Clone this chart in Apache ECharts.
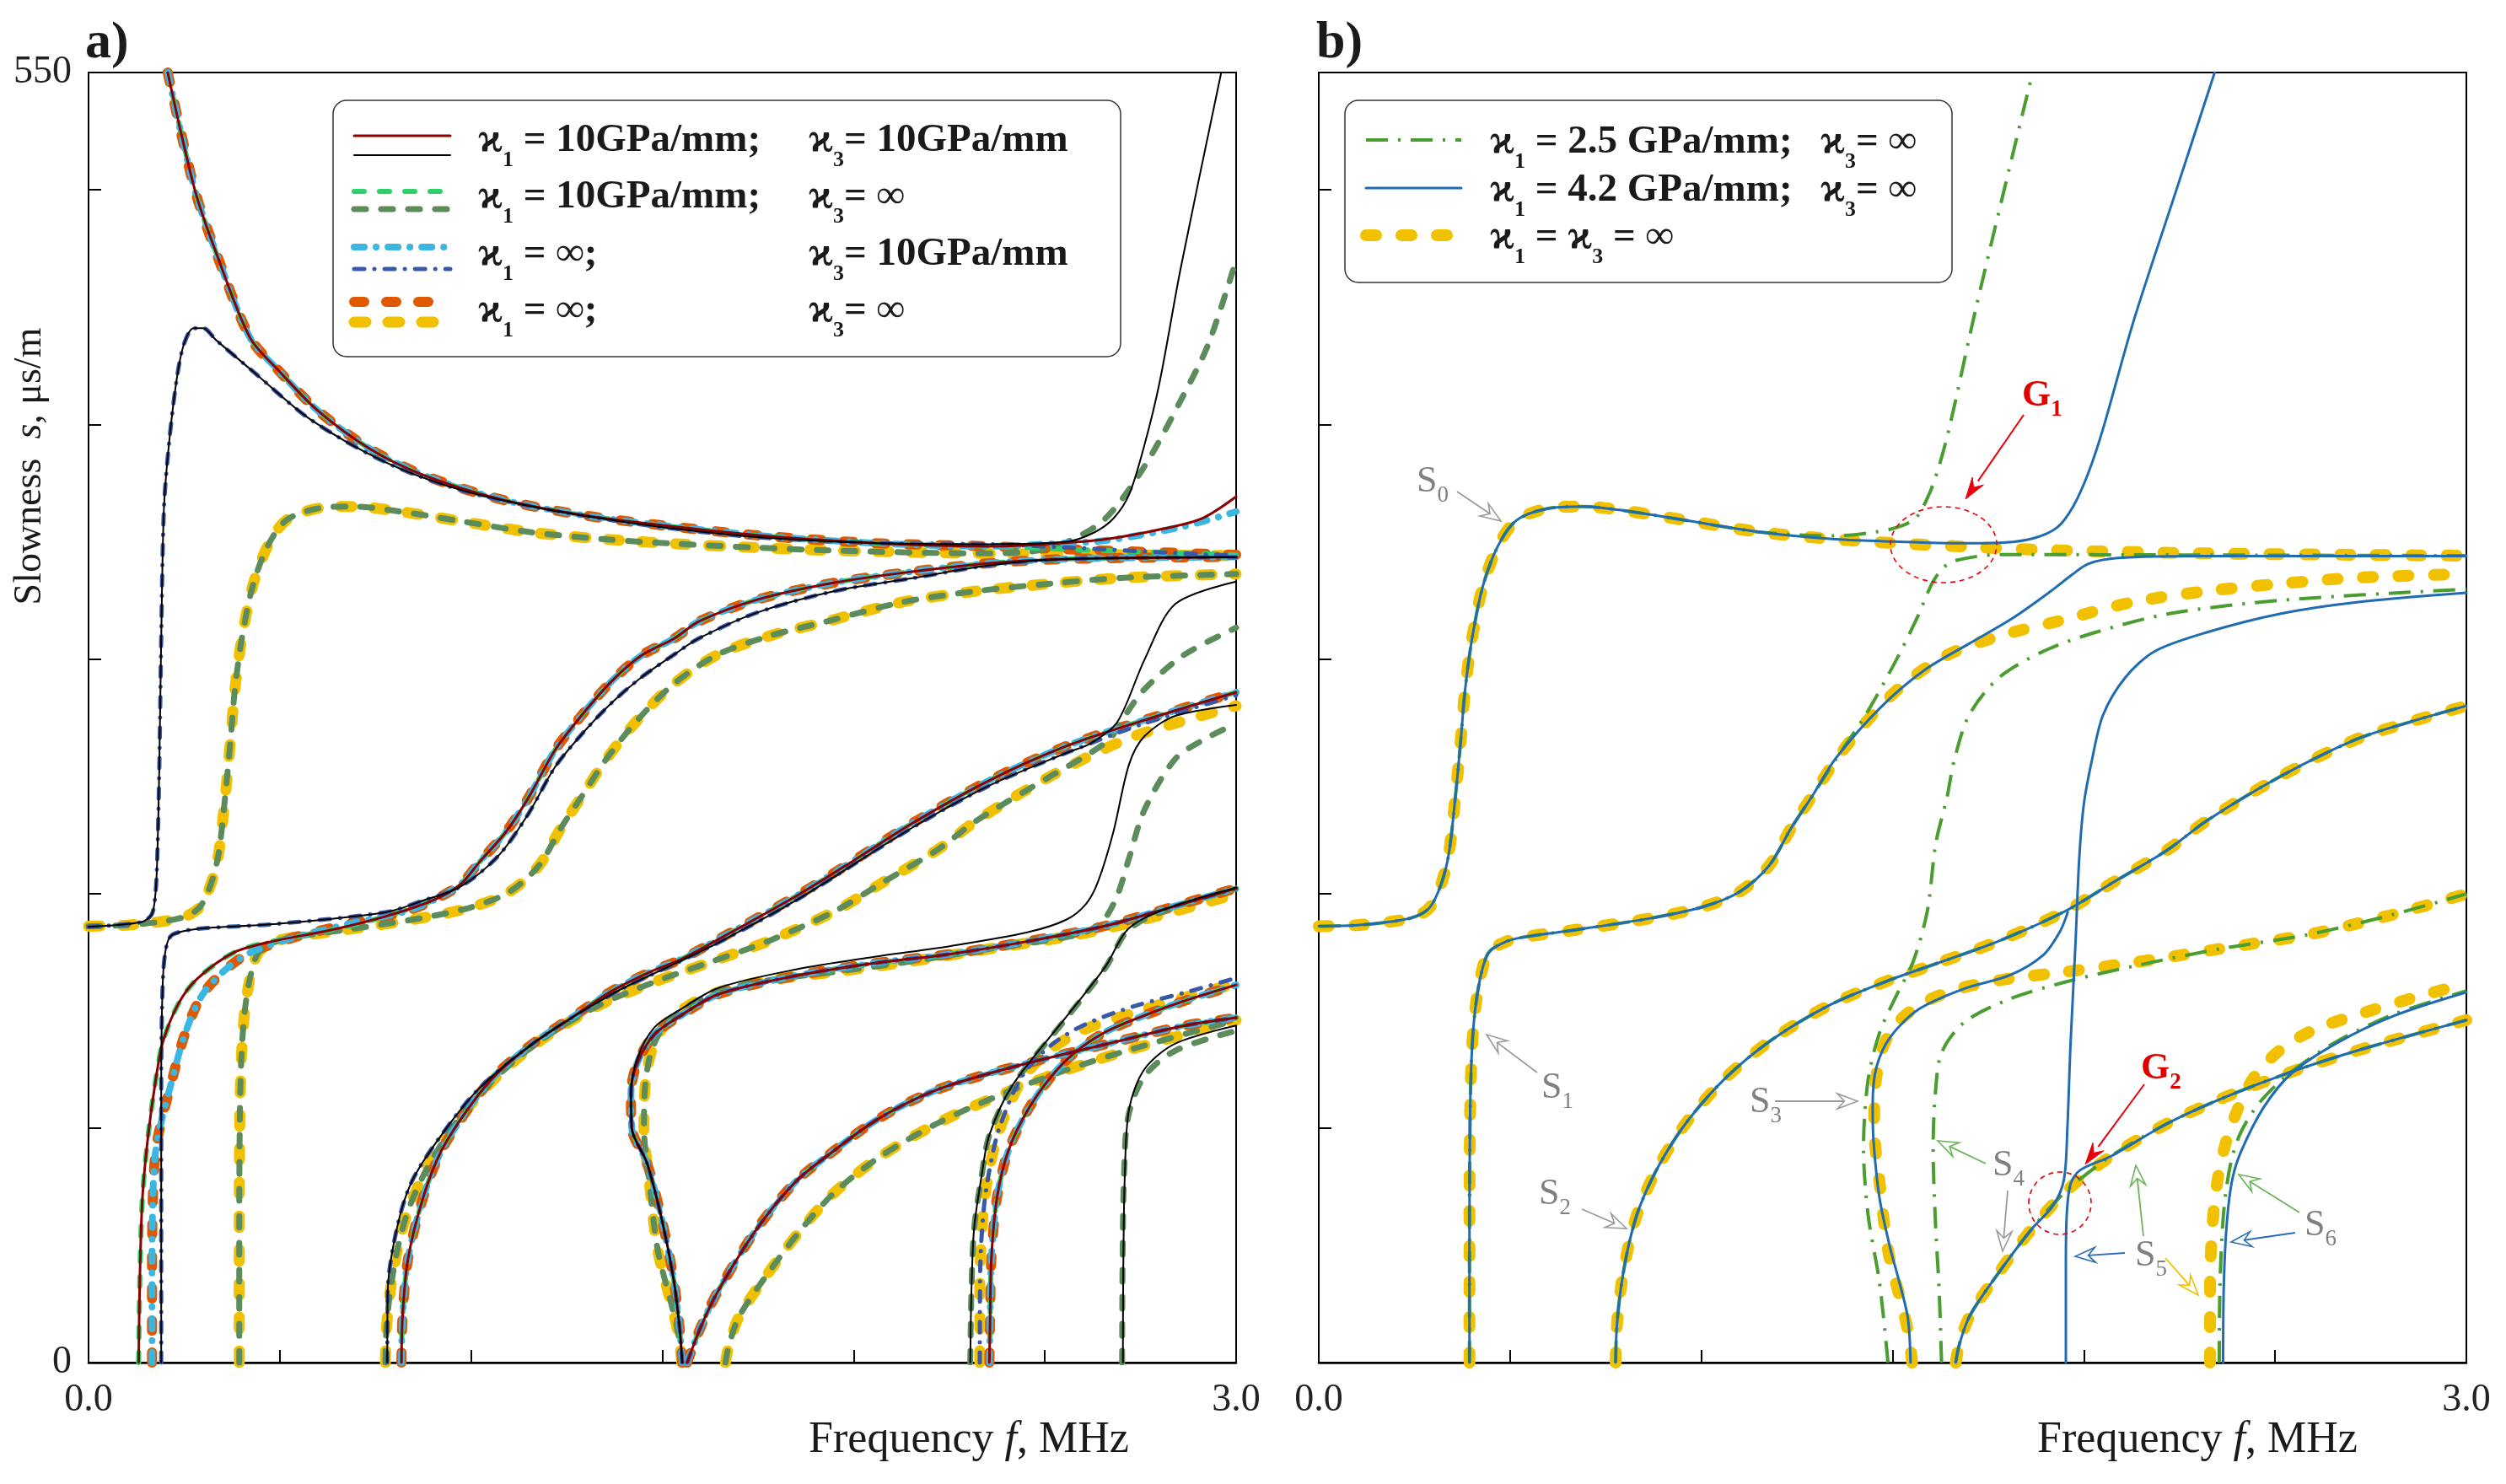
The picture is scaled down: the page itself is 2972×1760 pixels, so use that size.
<!DOCTYPE html>
<html><head><meta charset="utf-8">
<script src="https://cdn.jsdelivr.net/npm/echarts@6/dist/echarts.min.js"></script>
<style>html,body{margin:0;padding:0;background:#fff}#c{width:2972px;height:1760px}</style>
</head><body><div id="c"></div>
<script>
const FONT = "'Liberation Serif','DejaVu Serif','Times New Roman',serif";

// ---------- axis labels ----------
const xLabelValues = [0, 3];
const yLabelValues = [0, 550];

// ---------- symmetric modes, kappa1 = kappa3 = inf (yellow, both panels) ----------
const S0_HEAD = [[0,186],[0.10,186.5],[0.19,188],[0.25,190],[0.29,194],[0.32,204],[0.34,217],[0.357,241],[0.371,265],[0.382,286],[0.40,308],[0.429,331],[0.468,348],[0.516,359],[0.594,364],[0.691,365],[0.808,363],[0.962,359],[1.157,354]];
const S0_MID = [[1.351,351],[1.545,349],[1.739,347.5],[1.933,346.3],[2.32,345]];
const S0_END = [[2.7,344.4],[3.0,344]];
const S1_HEAD = [[0.394,0],[0.394,60],[0.396,110],[0.401,135],[0.41,152],[0.425,166],[0.445,175],[0.49,179.5],[0.536,181.4],[0.672,184.5],[0.866,189.4],[1.002,194.2],[1.099,200.6],[1.177,211.8],[1.235,227.9],[1.293,242.3]];
const S1_END = [[1.351,256.7],[1.429,272.8],[1.526,288.8],[1.642,301.6],[1.778,309.7],[1.933,316.1],[2.127,324.2],[2.321,328.9],[2.515,332.1],[2.709,334.6],[3.0,336.2]];
const Y2 = [[0.776,0],[0.779,15],[0.79,32],[0.81,50],[0.838,66],[0.89,84.3],[0.964,103],[1.067,121.9],[1.185,137.7],[1.333,152.2],[1.48,162.3],[1.628,170.9],[1.776,179.6],[1.953,192.6],[2.071,204.2],[2.219,218.6],[2.321,231],[2.515,250],[2.709,265.5],[2.85,273],[3.0,280]];
const Y3 = [[1.551,0],[1.542,12],[1.525,24],[1.488,48],[1.466,77],[1.452,100],[1.455,118],[1.47,132],[1.498,142],[1.54,149],[1.60,155],[1.687,160],[1.806,163.7],[1.953,166.6],[2.144,170.9],[2.367,176.7],[2.588,182.5],[2.81,191.1],[3.0,199.8]];
const Y4 = [[1.665,0],[1.675,8],[1.702,20],[1.776,38],[1.864,57],[1.953,73],[2.071,88],[2.219,102],[2.367,113],[2.543,124],[2.735,134],[3.0,146]];
const Y5 = [[2.33,0],[2.33,34],[2.337,60],[2.352,80],[2.381,99],[2.44,120.5],[2.514,133.4],[2.603,142],[2.735,149.3],[2.883,156.5],[3.0,161.6]];

// ---------- panel b: kappa1 = 4.2 GPa/mm (blue) ----------
const B0_END = [[1.351,351],[1.506,350],[1.681,349.3],[1.79,349.6],[1.87,351.5],[1.93,356],[1.972,365],[2.011,379],[2.05,398],[2.13,444],[2.24,499],[2.342,550]];
const B1_END = [[1.351,257.5],[1.468,279.2],[1.584,295.3],[1.70,306.5],[1.817,317.7],[1.914,328.9],[1.97,336],[2.011,340.5],[2.089,343],[2.32,343.8],[3.0,343.8]];
const B3 = [[1.547,0],[1.54,19],[1.515,36],[1.495,48],[1.466,70],[1.45,95],[1.448,110],[1.458,126],[1.495,139],[1.569,150.7],[1.687,159.4],[1.806,165.1],[1.894,173.8],[1.938,183.9],[1.958,192]];
const B4 = [[1.665,0],[1.675,8],[1.702,20],[1.776,38],[1.864,57],[1.92,67],[1.948,78],[1.957,100],[1.965,135],[1.978,178],[1.988,215],[2.0,238],[2.021,256.7],[2.05,276],[2.108,292],[2.186,303.3],[2.321,311.3],[2.515,319.3],[2.709,324.1],[3.0,328.2]];
const B5 = [[1.953,0],[1.953,40],[1.955,62],[1.965,76],[1.99,82],[2.071,88],[2.219,102],[2.367,113],[2.543,124],[2.735,134],[3.0,146]];
const B6 = [[2.364,0],[2.366,34],[2.374,60],[2.388,78],[2.411,90],[2.47,108.8],[2.543,123.3],[2.662,136.3],[2.81,147.8],[3.0,157.9]];

// ---------- panel b: kappa1 = 2.5 GPa/mm (green dash-dot) ----------
const G0_END = [[1.351,352.5],[1.45,354],[1.51,356],[1.56,360],[1.595,370],[1.623,383],[1.652,401],[1.72,451],[1.866,550]];
const G1_END = [[1.351,257],[1.429,276],[1.506,298.4],[1.565,317.8],[1.603,332.1],[1.63,338.5],[1.661,341.8],[1.778,344.5],[2.3,344.3],[3.0,344]];
const G3 = [[1.488,0],[1.466,34],[1.436,63],[1.424,91.5],[1.436,120.5],[1.466,140.6],[1.51,156.5],[1.554,171],[1.591,192.6],[1.613,221.4],[1.642,240.7],[1.661,256.7],[1.70,276],[1.778,292],[1.895,303.3],[2.03,311.3],[2.224,319.3],[2.515,325],[3.0,329.7]];
const G4 = [[1.628,0],[1.622,30],[1.612,60],[1.606,91.5],[1.612,115],[1.628,132],[1.687,145],[1.806,155],[1.953,162.3],[2.144,169.5],[2.367,176.7],[2.588,182.5],[2.81,191.1],[3.0,199.8]];
const G6 = [[2.354,0],[2.356,34],[2.366,65],[2.384,85],[2.41,98],[2.46,111],[2.543,124],[2.662,137],[2.81,148.5],[3.0,158.5]];

// ---------- panel a: antisymmetric modes (orange / red / light green / light blue) ----------
const A0_HEAD = [[0.207,550],[0.245,522],[0.283,497],[0.334,473],[0.422,437],[0.50,422.4],[0.599,405.9],[0.737,389.4],[0.875,378.4],[1.071,368.3],[1.268,361.9],[1.444,358],[1.747,352.7],[2.051,349.4],[2.355,348]];
const O0_END = [[2.6,346.5],[3.0,344.4]];
const R0_END = [[2.507,349],[2.659,351],[2.81,355.5],[2.912,360],[3.0,369.2]];
const LB0_END = [[2.507,349],[2.659,350.5],[2.861,356.4],[3.0,362.8]];
const A1_TAIL = [[0.973,204],[1.022,213.4],[1.091,226.2],[1.15,240.8],[1.219,261],[1.288,275.7],[1.367,290.4],[1.445,301.4],[1.532,308.8],[1.596,316],[1.747,325.2],[1.95,332.5],[2.153,337.2],[2.355,340.8],[2.557,342.6],[3.0,343.5]];
const O1_HEAD = [[0.166,0],[0.166,40],[0.168,70],[0.174,88],[0.185,99],[0.215,118.4],[0.254,141],[0.304,158.3],[0.402,172.9],[0.53,180.9],[0.678,186.9],[0.825,192.2],[0.9,197]];
const R1_HEAD = [[0.131,0],[0.134,35],[0.141,70.5],[0.156,97.1],[0.176,121],[0.195,137],[0.235,153],[0.284,163.6],[0.382,175],[0.481,179.6],[0.628,184.2],[0.776,190.2],[0.9,197]];
const O2 = [[0.818,0],[0.821,20],[0.835,44],[0.875,70.5],[0.923,90.5],[1.002,110.4],[1.071,123.7],[1.17,137],[1.268,147.6],[1.367,158.3],[1.465,166.3],[1.55,172],[1.646,180.4],[1.849,198.8],[2.0,214],[2.153,229.9],[2.355,248.2],[2.557,262.9],[2.76,273.9],[3.0,285.8]];
const O3 = [[1.552,0],[1.545,15],[1.53,35],[1.50,60],[1.46,85],[1.42,100],[1.418,115],[1.435,128],[1.48,140],[1.545,147.6],[1.646,157],[1.849,164.9],[2.051,170.2],[2.254,174.2],[2.456,179.6],[2.659,186.2],[2.861,195.6],[3.0,202.2]];
const O4 = [[1.565,0],[1.60,15],[1.646,30.6],[1.748,57.2],[1.849,77.2],[1.95,90.5],[2.051,102.5],[2.153,111.7],[2.254,118.4],[2.456,127.7],[2.659,135.7],[2.861,143.5],[3.0,147]];
const O5 = [[2.355,0],[2.357,20],[2.36,44],[2.375,70.5],[2.405,90.5],[2.456,107.8],[2.517,122],[2.577,132],[2.659,141],[2.76,148],[2.861,154],[3.0,161]];

// ---------- panel a: symmetric modes with finite stiffness (black / dark blue / dark green) ----------
const K0_HEAD = [[0,185.8],[0.136,187.7],[0.165,191],[0.175,200],[0.18,217],[0.185,253.8],[0.19,308.8],[0.197,363.7],[0.21,391.2],[0.23,418.7],[0.249,434],[0.275,441],[0.3,441],[0.333,436],[0.431,422.4],[0.579,402.2],[0.776,383.9],[0.973,372],[1.17,364.6],[1.367,359.2],[1.532,355.5],[1.747,351.9],[2.051,349.4],[2.355,348.9]];
const K0_END = [[2.558,350],[2.63,354],[2.68,360],[2.72,370],[2.76,391],[2.8,418],[2.855,466.5],[2.961,550]];
const DB0_END = [[2.558,347.5],[2.8,345.5],[3.0,344]];
const K1 = [[0.19,0],[0.19,60],[0.19,120],[0.192,150],[0.196,168],[0.205,178.5],[0.22,182.5],[0.284,184.9],[0.481,186.9],[0.776,192],[0.875,197],[0.973,203],[1.071,216],[1.15,234],[1.219,253.8],[1.29,268],[1.367,281.2],[1.444,292],[1.532,302],[1.596,308.8],[1.747,319.7],[1.95,328.9],[2.153,334.4],[2.355,339.9],[2.557,342.6],[3.0,343.3]];
const K2_HEAD = [[0.781,0],[0.782,30],[0.806,57.2],[0.845,77.2],[0.923,97.1],[1.022,117],[1.17,137],[1.367,157],[1.532,170],[1.646,179],[1.849,197],[2.153,228],[2.355,246],[2.557,260]];
const K2_END = [[2.62,264],[2.689,273],[2.76,299.5],[2.841,323.4],[3.0,333]];
const DB2_END = [[2.76,272.5],[3.0,284.5]];
const K3 = [[1.552,0],[1.545,15],[1.53,35],[1.50,60],[1.46,85],[1.42,100],[1.418,115],[1.435,130],[1.48,143],[1.545,150.3],[1.646,159.7],[1.849,167.6],[2.051,172.9],[2.254,177.6],[2.456,183.5],[2.557,188.9],[2.608,195.6],[2.639,205],[2.679,226.2],[2.72,255],[2.76,267],[2.841,275.7],[3.0,280.4]];
const K4 = [[2.305,0],[2.308,30],[2.315,57.2],[2.335,80],[2.355,97.1],[2.416,118.4],[2.557,147.6],[2.659,169],[2.71,183.5],[2.76,189.5],[2.861,196],[3.0,202.5]];
const K5 = [[2.704,0],[2.705,40],[2.709,80],[2.72,108],[2.76,125],[2.841,136],[3.0,143.7]];
const DB5 = [[2.33,0],[2.331,40],[2.34,65],[2.355,82],[2.381,100],[2.44,122],[2.514,135],[2.603,144],[2.735,152],[2.883,158.5],[3.0,164]];
const DG0_END = [[2.45,345.5],[2.56,350],[2.659,360],[2.76,382],[2.861,412],[2.928,434.5],[3.0,470]];
const DG2_END = [[2.6,258],[2.67,266],[2.71,276],[2.76,287],[2.861,301.4],[3.0,313.3]];
const DG3_END = [[2.65,188],[2.689,199],[2.72,215],[2.76,235.5],[2.841,257.4],[2.92,266],[3.0,272.5]];
const DGD = [[2.305,0],[2.308,30],[2.315,57],[2.335,80],[2.355,97],[2.416,118],[2.557,147],[2.659,168.5],[2.71,183],[2.76,189],[2.861,195.5],[3.0,202]];
const DG5 = [[2.702,0],[2.703,40],[2.707,80],[2.718,105],[2.76,122],[2.841,133],[3.0,141.5]];

// ---------- assembled curves ----------
const Y0 = S0_HEAD.concat(S0_MID, S0_END);
const Y1 = S1_HEAD.concat(S1_END);
const B0 = S0_HEAD.concat(B0_END);
const B1 = S1_HEAD.concat(B1_END);
const G0 = S0_HEAD.concat(G0_END);
const G1 = S1_HEAD.concat(G1_END);
const O0 = A0_HEAD.concat(O0_END), R0 = A0_HEAD.concat(R0_END), LB0 = A0_HEAD.concat(LB0_END);
const O1 = O1_HEAD.concat(A1_TAIL), R1 = R1_HEAD.concat(A1_TAIL);
const K0 = K0_HEAD.concat(K0_END), DB0 = K0_HEAD.concat(DB0_END);
const K2 = K2_HEAD.concat(K2_END), DB2 = K2_HEAD.concat(DB2_END);
const DG0 = S0_HEAD.concat(S0_MID, DG0_END);
const DG2 = Y2.filter(p => p[0] <= 2.515).concat(DG2_END);
const DG3 = Y3.filter(p => p[0] <= 2.588).concat(DG3_END);

const ST = {
  yellow: {color:'#f1c100', width:13, type:[14,26], z:2},
  orange: {color:'#e05800', width:12, type:[12,26], z:3},
  dgreen: {color:'#5c8b5c', width:7, type:[14,18], z:4},
  lgreen: {color:'#2ed06a', width:6, type:[12,18], z:5},
  lblue:  {color:'#3bb6e0', width:8, type:[12,14,0.1,14], z:6},
  dblue:  {color:'#3a58a8', width:5, type:[12,12,0.1,12], z:7},
  red:    {color:'#8b0000', width:3, type:'solid', z:8},
  black:  {color:'#000000', width:2, type:'solid', z:9},
  byellow:{color:'#f1c100', width:14, type:[12,30], z:2},
  bgreen: {color:'#4a9e2f', width:4, type:[26,12,3,12], z:3, cap:'butt'},
  bblue:  {color:'#1f6cb2', width:3, type:'solid', z:4}
};

const panelA = [
  ['yellow',[Y0,Y1,Y2,Y3,Y4,Y5]],
  ['orange',[O0,O1,O2,O3,O4,O5]],
  ['dgreen',[DG0,Y1,DG2,DG3,Y4,DGD,DG5]],
  ['lgreen',[O0,R1,O2,O3,O4,O5]],
  ['lblue',[LB0,O1,O2,O3,O4,O5]],
  ['dblue',[DB0,K1,DB2,O3,O4,DB5]],
  ['red',[R0,R1,O2,O3,O4,O5]],
  ['black',[K0,K1,K2,K3,K4,K5]]
];
const panelB = [
  ['byellow',[Y0,Y1,Y2,Y3,Y4,Y5]],
  ['bgreen',[G0,G1,Y2,G3,G4,Y4,G6]],
  ['bblue',[B0,B1,Y2,B3,B4,B5,B6]]
];

const series = [];
function addPanel(list, gi) {
  list.forEach(([key, curves]) => {
    const s = ST[key];
    curves.forEach(d => series.push({
      type:'line', xAxisIndex:gi, yAxisIndex:gi, data:d, symbol:'none', showSymbol:false,
      smooth:0.3, silent:true, animation:false, z:s.z, clip:true,
      lineStyle:{color:s.color, width:s.width, type:s.type, cap:s.cap||'round', join:'round'}
    }));
  });
}
addPanel(panelA, 0);
addPanel(panelB, 1);

const GRID_A = {left:105, top:86, width:1361, height:1530};
const GRID_B = {left:1564, top:86, width:1361, height:1530};

function xAx(gi) {
  return {gridIndex:gi, type:'value', min:0, max:3, interval:0.5,
    axisLine:{show:true, onZero:false, lineStyle:{color:'#000', width:2.5}},
    axisTick:{show:true, inside:true, length:15, lineStyle:{color:'#000', width:2}},
    axisLabel:{show:true, showMinLabel:true, showMaxLabel:true, margin:22, fontSize:46, fontFamily:FONT, color:'#222',
      formatter: v => xLabelValues.includes(v) ? v.toFixed(1) : ''},
    splitLine:{show:false}};
}
function yAx(gi, showLabels) {
  return {gridIndex:gi, type:'value', min:0, max:550, interval:100,
    axisLine:{show:true, onZero:false, lineStyle:{color:'#000', width:2}},
    axisTick:{show:true, inside:true, length:15, lineStyle:{color:'#000', width:2}},
    axisLabel:{show:showLabels, showMinLabel:true, showMaxLabel:true, margin:20, fontSize:46, fontFamily:FONT, color:'#222',
      formatter: v => yLabelValues.includes(v) ? String(v) : ''},
    splitLine:{show:false}};
}

// ---------- graphics: legends, titles, annotations ----------
const G = [];
const TOK = (size, extra) => Object.assign({fontSize:size, fontFamily:FONT, fill:'#1a1a1a', color:'#1a1a1a', lineHeight:72}, extra || {});
const legRich = {
  k: TOK(50, {fontWeight:'bold'}),
  t: TOK(47, {fontWeight:'bold'}),
  s: TOK(26, {fontWeight:'bold', lineHeight:26, verticalAlign:'bottom'})
};
function txt(x, y, text, rich, extra) {
  G.push(Object.assign({type:'text', x:x, y:y, z:120, silent:true,
    style:{text:text, rich:rich, align:'left', textAlign:'left', verticalAlign:'middle', textVerticalAlign:'middle'}}, extra || {}));
}
function legLine(x1, x2, y, key) {
  const s = ST[key];
  G.push({type:'line', z:115, silent:true, shape:{x1:x1, y1:y, x2:x2, y2:y},
    style:{stroke:s.color, lineWidth:s.width, lineDash:Array.isArray(s.type) ? s.type : null, lineCap:s.cap || 'round'}});
}
// legend box a
G.push({type:'rect', z:110, silent:true, shape:{x:395, y:119, width:934, height:304, r:16}, style:{fill:'#fff', stroke:'#333', lineWidth:1.5}});
const legA = [
  ['red','black',161,184,'{k|ϰ}{s|1}{t| = 10GPa/mm;}','{k|ϰ}{s|3}{t|= 10GPa/mm}',167],
  ['lgreen','dgreen',227,248,'{k|ϰ}{s|1}{t| = 10GPa/mm;}','{k|ϰ}{s|3}{t|= ∞}',234],
  ['lblue','dblue',293,319,'{k|ϰ}{s|1}{t| = ∞;}','{k|ϰ}{s|3}{t|= 10GPa/mm}',302],
  ['orange','yellow',358,382,'{k|ϰ}{s|1}{t| = ∞;}','{k|ϰ}{s|3}{t|= ∞}',369]
];
legA.forEach(r => {
  legLine(420, 534, r[2], r[0]);
  legLine(420, 534, r[3], r[1]);
  txt(567, r[6], r[4], legRich);
  txt(959, r[6], r[5], legRich);
});
// legend box b
G.push({type:'rect', z:110, silent:true, shape:{x:1595, y:119, width:720, height:216, r:16}, style:{fill:'#fff', stroke:'#333', lineWidth:1.5}});
const legB = [
  ['bgreen',166,'{k|ϰ}{s|1}{t| = 2.5 GPa/mm;}','{k|ϰ}{s|3}{t|= ∞}',169],
  ['bblue',223,'{k|ϰ}{s|1}{t| = 4.2 GPa/mm;}','{k|ϰ}{s|3}{t|= ∞}',226],
  ['byellow',279,'{k|ϰ}{s|1}{t| = }{k|ϰ}{s|3}{t| = ∞}',null,282]
];
legB.forEach(r => {
  legLine(1620, 1733, r[1], r[0]);
  txt(1767, r[4], r[2], legRich);
  if (r[3]) txt(2159, r[4], r[3], legRich);
});

// panel letters
txt(101, 52, '{b|a)}', {b: TOK(62, {fontWeight:'bold', lineHeight:70})});
txt(1561, 52, '{b|b)}', {b: TOK(62, {fontWeight:'bold', lineHeight:70})});

// axis titles
const titleRich = {n: TOK(52, {lineHeight:60}), i: TOK(52, {fontStyle:'italic', lineHeight:60})};
G.push({type:'text', x:1149, y:1708, z:120, silent:true, style:{text:'{n|Frequency }{i|f}{n|, MHz}', rich:titleRich, align:'center', textAlign:'center', verticalAlign:'middle', textVerticalAlign:'middle'}});
G.push({type:'text', x:2606, y:1708, z:120, silent:true, style:{text:'{n|Frequency }{i|f}{n|, MHz}', rich:titleRich, align:'center', textAlign:'center', verticalAlign:'middle', textVerticalAlign:'middle'}});
const yRich = {n: TOK(46, {lineHeight:54}), i: TOK(46, {fontStyle:'italic', lineHeight:54})};
G.push({type:'text', x:36, y:553, rotation:Math.PI/2, z:120, silent:true, style:{text:'{n|Slowness  }{i|s}{n|, μs/m}', rich:yRich, align:'center', textAlign:'center', verticalAlign:'middle', textVerticalAlign:'middle'}});

// annotations (panel b)
const grayRich = {m: TOK(44, {fill:'#808080', color:'#808080', lineHeight:60}), s: TOK(27, {fill:'#808080', color:'#808080', lineHeight:27, verticalAlign:'bottom'})};
const redRich = {m: TOK(44, {fill:'#e00000', color:'#e00000', fontWeight:'bold', lineHeight:60}), s: TOK(27, {fill:'#e00000', color:'#e00000', fontWeight:'bold', lineHeight:27, verticalAlign:'bottom'})};
function arrow(x1, y1, x2, y2, color, w, filled) {
  const a = Math.atan2(y2 - y1, x2 - x1), ca = Math.cos(a), sa = Math.sin(a);
  const hl = filled ? 26 : 24, hw = filled ? 8 : 9;
  const bx = x2 - hl * ca, by = y2 - hl * sa;
  const nx = x2 - hl * 0.65 * ca, ny = y2 - hl * 0.65 * sa;
  G.push({type:'line', z:118, silent:true, shape:{x1:x1, y1:y1, x2:filled ? bx : nx, y2:filled ? by : ny}, style:{stroke:color, lineWidth:w}});
  G.push({type:'polygon', z:119, silent:true, shape:{points:[[x2, y2], [bx + hw * sa, by - hw * ca], [nx, ny], [bx - hw * sa, by + hw * ca]]},
    style:{stroke:color, lineWidth:filled ? 1 : 1.6, fill:filled ? color : '#fff'}});
}
const GRAY = '#9a9a9a', LGRN = '#6cb35c', BLU = '#2a6db5', YEL = '#f0c000', RED = '#e8000b';
txt(1680, 571, '{m|S}{s|0}', grayRich);
arrow(1728, 583, 1780, 618, GRAY, 1.8, false);
txt(1828, 1290, '{m|S}{s|1}', grayRich);
arrow(1823, 1272, 1763, 1227, GRAY, 1.8, false);
txt(1825, 1416, '{m|S}{s|2}', grayRich);
arrow(1876, 1434, 1929, 1457, GRAY, 1.8, false);
txt(2075, 1307, '{m|S}{s|3}', grayRich);
arrow(2105, 1306, 2203, 1306, GRAY, 1.8, false);
txt(2363, 1382, '{m|S}{s|4}', grayRich);
arrow(2355, 1380, 2298, 1353, LGRN, 1.8, false);
arrow(2381, 1412, 2375, 1484, GRAY, 1.8, false);
txt(2532, 1489, '{m|S}{s|5}', grayRich);
arrow(2542, 1466, 2533, 1382, LGRN, 1.8, false);
arrow(2520, 1486, 2461, 1490, BLU, 1.8, false);
arrow(2568, 1492, 2607, 1536, YEL, 1.8, false);
txt(2733, 1453, '{m|S}{s|6}', grayRich);
arrow(2727, 1438, 2655, 1393, LGRN, 1.8, false);
arrow(2722, 1462, 2646, 1473, BLU, 1.8, false);
txt(2398, 470, '{m|G}{s|1}', redRich);
arrow(2400, 492, 2331, 592, RED, 2, true);
txt(2539, 1268, '{m|G}{s|2}', redRich);
arrow(2543, 1286, 2473, 1381, RED, 2, true);
G.push({type:'ellipse', z:117, silent:true, shape:{cx:2305, cy:646, rx:63, ry:45}, style:{fill:'none', stroke:RED, lineWidth:1.6, lineDash:[6,5]}});
G.push({type:'ellipse', z:117, silent:true, shape:{cx:2443, cy:1427, rx:37, ry:37}, style:{fill:'none', stroke:RED, lineWidth:1.6, lineDash:[6,5]}});

const chart = echarts.init(document.getElementById('c'), null, {renderer:'canvas'});
chart.setOption({
  animation:false,
  backgroundColor:'#fff',
  grid:[Object.assign({show:true, borderColor:'#000', borderWidth:2, outerBoundsMode:'none', containLabel:false}, GRID_A),
        Object.assign({show:true, borderColor:'#000', borderWidth:2, outerBoundsMode:'none', containLabel:false}, GRID_B)],
  xAxis:[xAx(0), xAx(1)],
  yAxis:[yAx(0, true), yAx(1, false)],
  series:series,
  graphic:{elements:G}
});
</script></body></html>
